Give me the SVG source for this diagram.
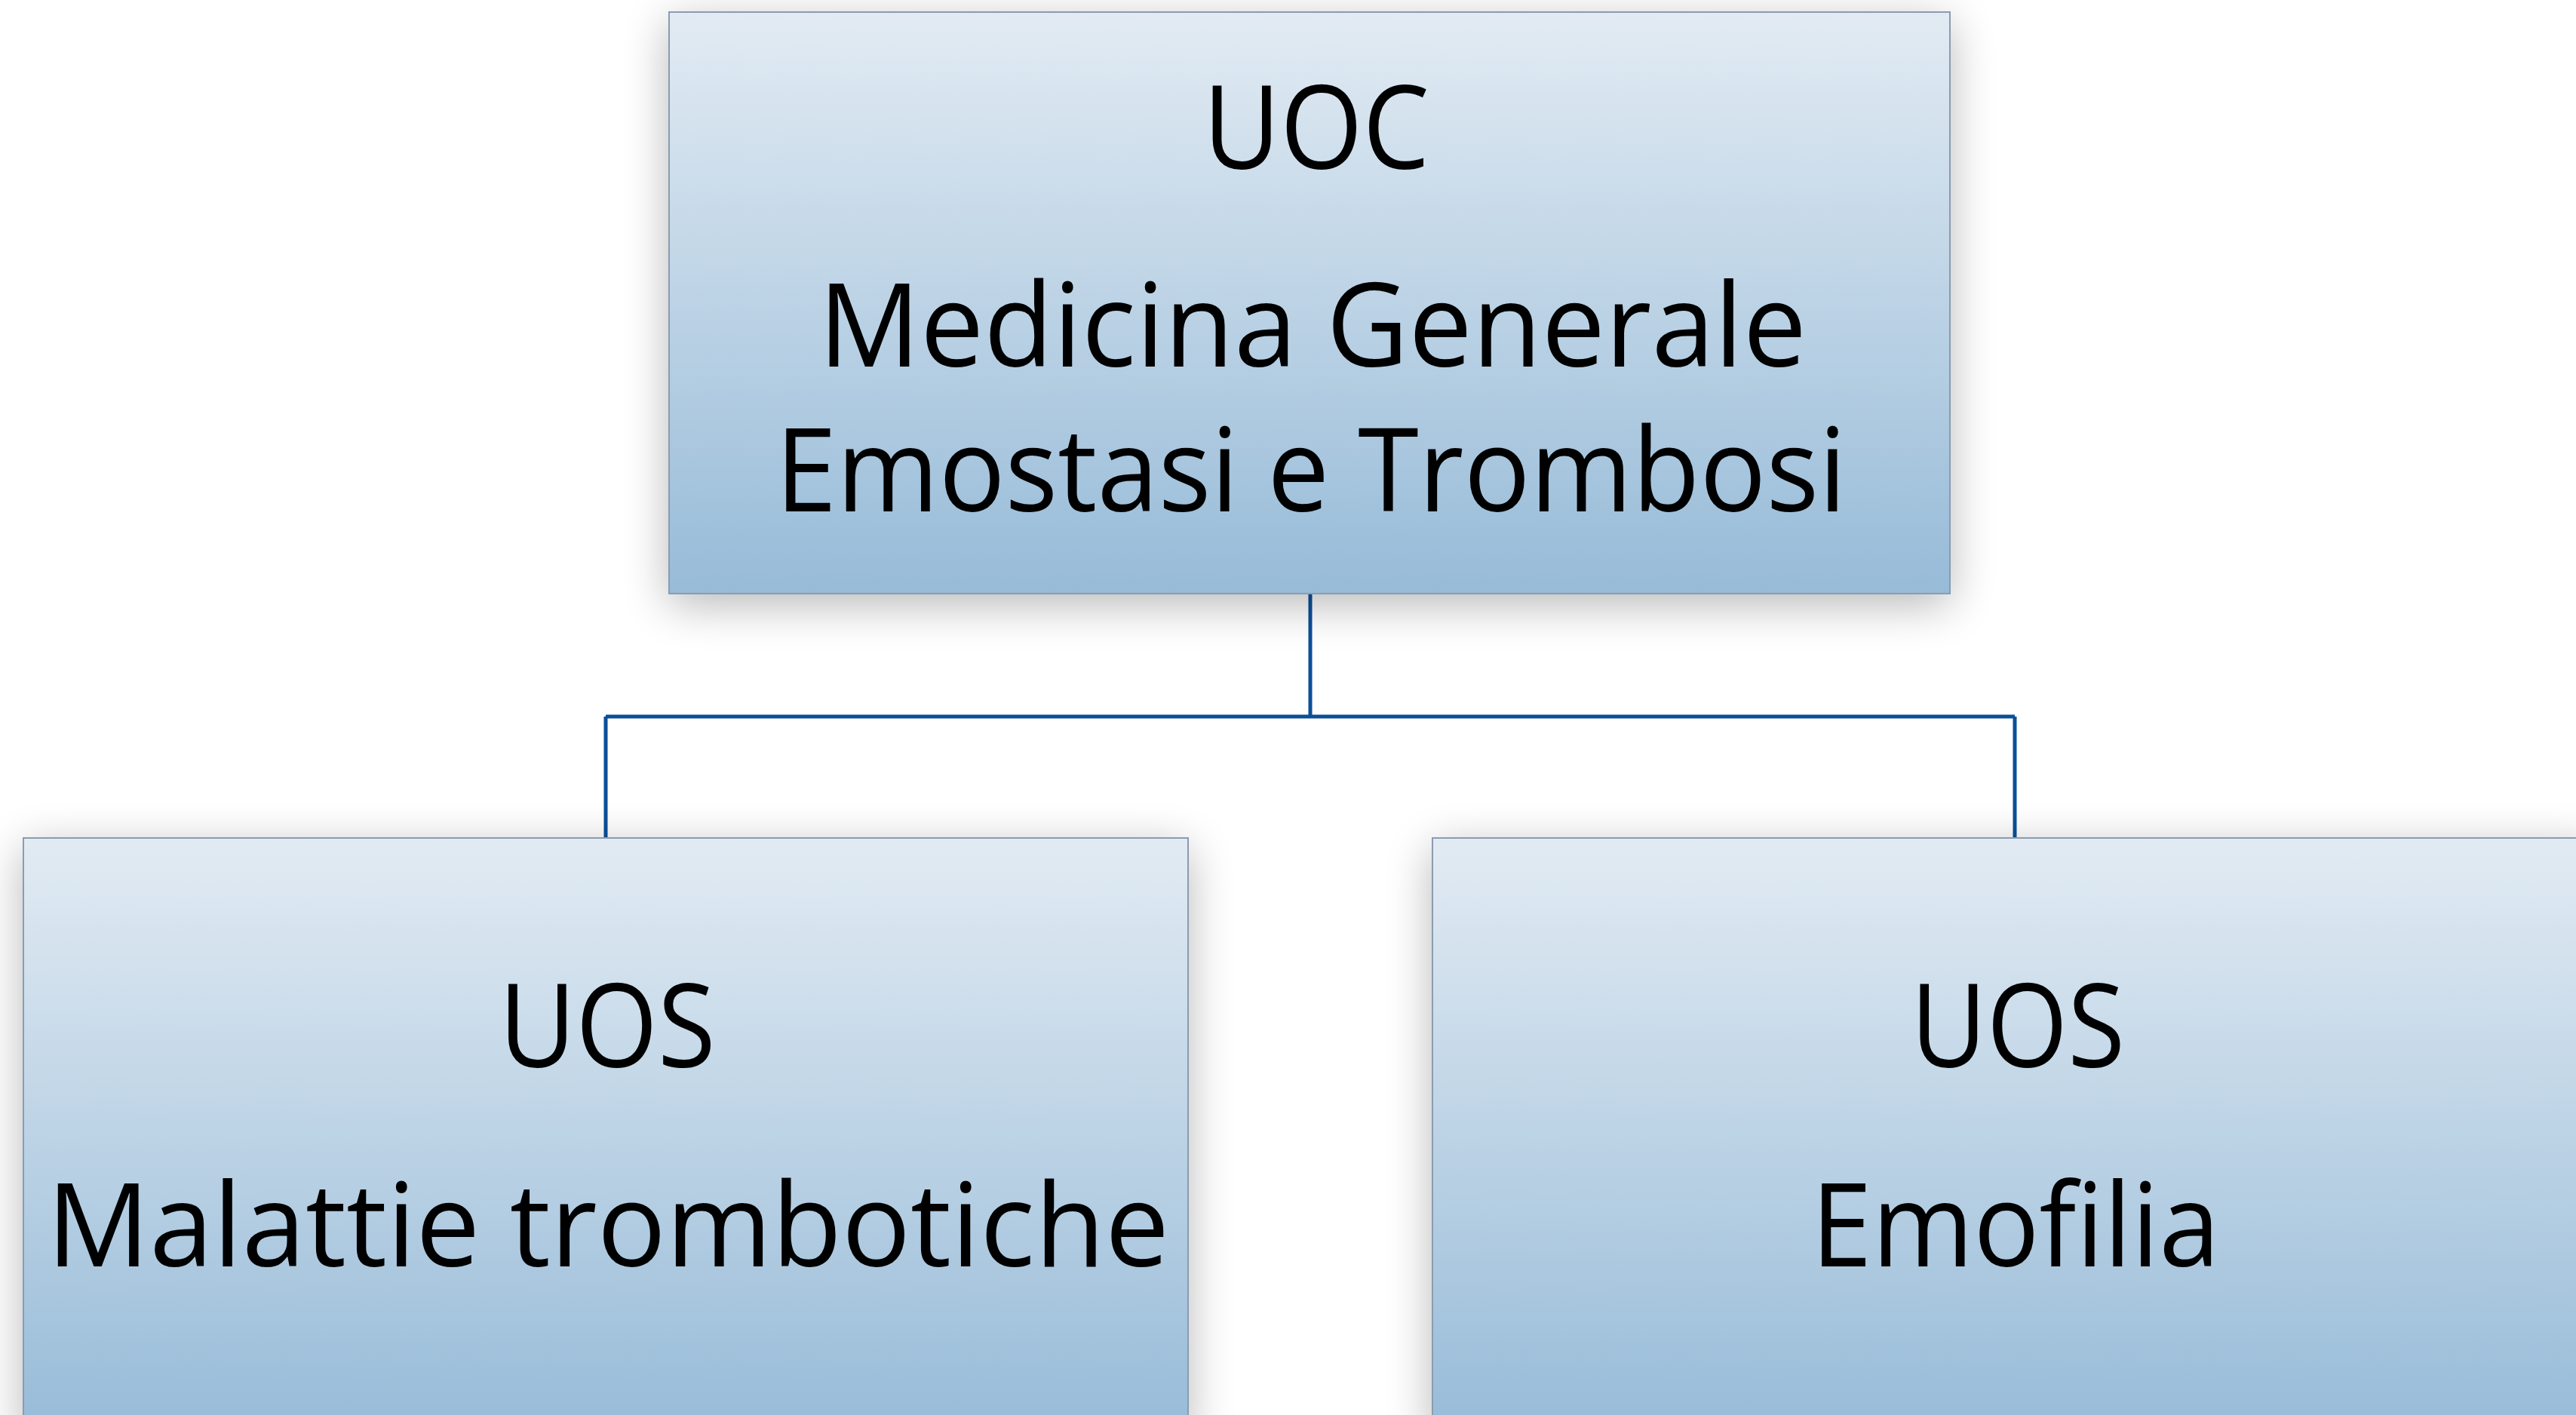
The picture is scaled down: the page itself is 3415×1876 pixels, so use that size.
<svg xmlns="http://www.w3.org/2000/svg" width="3415" height="1876" viewBox="0 0 3415 1876">
  <defs>
    <linearGradient id="boxGrad" x1="0" y1="0" x2="0" y2="1">
      <stop offset="0" stop-color="#E2EBF3"/>
      <stop offset="1" stop-color="#97BBD8"/>
    </linearGradient>
    <filter id="shadow" x="-10%" y="-20%" width="120%" height="150%">
      <feGaussianBlur in="SourceAlpha" stdDeviation="30"/>
      <feOffset dx="0" dy="14" result="b"/>
      <feComponentTransfer><feFuncA type="linear" slope="0.28"/></feComponentTransfer>
      <feMerge><feMergeNode/><feMergeNode in="SourceGraphic"/></feMerge>
    </filter>
    <style>
      .box { fill: url(#boxGrad); stroke: #8A9CB0; stroke-width: 2; filter: url(#shadow); }
      .lbl { font-family: "Open Sans", "Noto Sans", sans-serif; font-size: 154px; fill: #000; text-anchor: middle; }
      .conn { fill: none; stroke: #0B4F98; stroke-width: 5; }
    </style>
  </defs>
  <rect width="3415" height="1876" fill="#FFFFFF"/>

  <g id="connectors">
    <path class="conn" d="M1737 787 V950 M803 950 H2671 M803 950 V1111 M2671 950 V1111"/>
  </g>

  <g id="node-uoc">
    <rect class="box" x="887" y="16" width="1698" height="771"/>
    <text class="lbl" x="1745" y="224" textLength="300" lengthAdjust="spacingAndGlyphs">UOC</text>
    <text class="lbl" x="1740" y="486" textLength="1310" lengthAdjust="spacingAndGlyphs">Medicina Generale</text>
    <text class="lbl" x="1738" y="678" textLength="1420" lengthAdjust="spacingAndGlyphs">Emostasi e Trombosi</text>
  </g>

  <g id="node-uos-malattie">
    <rect class="box" x="31" y="1111" width="1544" height="790"/>
    <text class="lbl" x="805" y="1415" textLength="287" lengthAdjust="spacingAndGlyphs">UOS</text>
    <text class="lbl" x="806" y="1679" textLength="1488" lengthAdjust="spacingAndGlyphs">Malattie trombotiche</text>
  </g>

  <g id="node-uos-emofilia">
    <rect class="box" x="1899" y="1111" width="1544" height="790"/>
    <text class="lbl" x="2675" y="1415" textLength="284" lengthAdjust="spacingAndGlyphs">UOS</text>
    <text class="lbl" x="2672" y="1679" textLength="542" lengthAdjust="spacingAndGlyphs">Emofilia</text>
  </g>
</svg>
